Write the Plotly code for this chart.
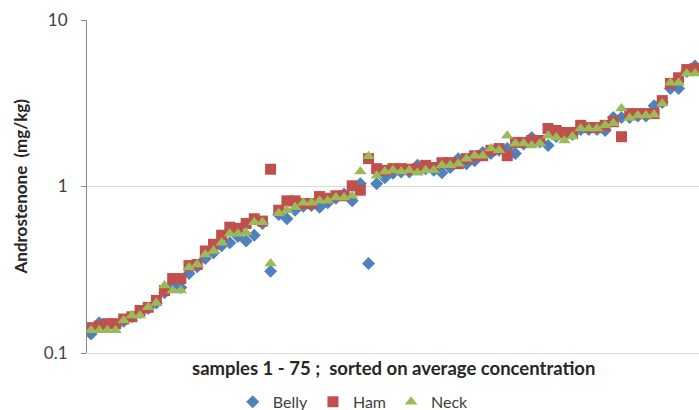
import plotly.graph_objects as go

# samples 1..75, sorted on average concentration (mg/kg)
samples = list(range(1, 76))

belly = [0.13, 0.152, 0.145, 0.145, 0.155, 0.165, 0.175, 0.185, 0.2, 0.23,
         0.26, 0.247, 0.30, 0.33, 0.37, 0.40, 0.44, 0.46, 0.50, 0.47,
         0.51, 0.60, 0.31, 0.68, 0.64, 0.72, 0.76, 0.77, 0.75, 0.80,
         0.85, 0.90, 0.82, 1.04, 0.345, 1.04, 1.13, 1.20, 1.22, 1.22,
         1.34, 1.28, 1.25, 1.21, 1.30, 1.47, 1.37, 1.43, 1.60, 1.58,
         1.65, 1.69, 1.58, 1.80, 1.97, 1.85, 1.76, 2.0, 2.05, 2.05,
         2.2, 2.2, 2.2, 2.17, 2.6, 2.6, 2.6, 2.65, 2.65, 3.05,
         3.2, 3.88, 3.88, 4.9, 5.3]

ham = [0.142, 0.145, 0.15, 0.15, 0.16, 0.165, 0.18, 0.188, 0.207, 0.237,
       0.28, 0.28, 0.335, 0.34, 0.41, 0.45, 0.51, 0.57, 0.56, 0.60,
       0.64, 0.62, 1.27, 0.72, 0.82, 0.82, 0.79, 0.79, 0.87, 0.85,
       0.88, 0.88, 1.01, 0.95, 1.47, 1.28, 1.25, 1.28, 1.28, 1.27,
       1.28, 1.34, 1.30, 1.39, 1.39, 1.37, 1.47, 1.53, 1.53, 1.65,
       1.69, 1.53, 1.84, 1.84, 1.89, 1.89, 2.23, 2.17, 2.11, 2.11,
       2.33, 2.26, 2.26, 2.33, 2.45, 1.99, 2.74, 2.74, 2.74, 2.74,
       3.28, 4.16, 4.5, 5.04, 5.1]

neck = [0.137, 0.137, 0.137, 0.137, 0.157, 0.168, 0.168, 0.188, 0.2, 0.254,
        0.237, 0.237, 0.326, 0.34, 0.39, 0.41, 0.46, 0.52, 0.52, 0.53,
        0.61, 0.61, 0.345, 0.69, 0.72, 0.75, 0.80, 0.80, 0.82, 0.82,
        0.86, 0.86, 0.88, 1.23, 1.52, 1.16, 1.23, 1.25, 1.23, 1.25,
        1.21, 1.25, 1.25, 1.34, 1.34, 1.37, 1.47, 1.53, 1.53, 1.69,
        1.65, 2.02, 1.81, 1.81, 1.76, 1.81, 2.02, 1.97, 1.89, 2.0,
        2.23, 2.23, 2.23, 2.33, 2.4, 2.94, 2.58, 2.67, 2.67, 2.7,
        3.15, 4.2, 4.2, 4.77, 4.77]

FONT = "Lato, 'Open Sans', sans-serif"

fig = go.Figure()
fig.add_trace(go.Scatter(x=samples, y=belly, mode="markers", name="Belly",
                         marker=dict(symbol="diamond", size=10, color="#4F81BD")))
fig.add_trace(go.Scatter(x=samples, y=ham, mode="markers", name="Ham",
                         marker=dict(symbol="square", size=11, color="#C0504D")))
fig.add_trace(go.Scatter(x=samples, y=neck, mode="markers", name="Neck",
                         marker=dict(symbol="triangle-up", size=11, color="#9BBB59")))

fig.update_layout(
    width=699, height=410,
    margin=dict(l=87, r=0, t=20, b=57),
    paper_bgcolor="white", plot_bgcolor="white",
    font=dict(family=FONT, size=15, color="#404040"),
    showlegend=True,
    legend=dict(orientation="h", xref="paper", x=0.435, xanchor="center",
                yref="container", y=0.02, yanchor="middle",
                font=dict(size=16, color="#404040"), itemwidth=30,
                bgcolor="rgba(0,0,0,0)"),
)

fig.update_xaxes(range=[0.5, 75.5], showticklabels=False, showgrid=False,
                 zeroline=False, showline=True, linecolor="#D9D9D9", linewidth=1,
                 ticks="")
fig.update_yaxes(type="log", range=[-1, 1], tickvals=[0.1, 1, 10],
                 ticktext=["0.1", "1", "10"], showgrid=True, gridcolor="#D9D9D9",
                 showline=True, linecolor="#868686", linewidth=1,
                 ticks="outside", ticklen=5, tickcolor="#868686",
                 ticklabelstandoff=10, tickfont=dict(size=17, color="#404040"),
                 zeroline=False)

fig.add_annotation(text="<b>Androstenone  (mg/kg)</b>", textangle=-90,
                   xref="paper", yref="paper", x=0, y=0.5, xanchor="center",
                   yanchor="middle", xshift=-67, showarrow=False,
                   font=dict(size=17, color="#262626"))
fig.add_annotation(text="<b>samples 1 - 75 ;  sorted on average concentration</b>",
                   xref="paper", yref="paper", x=0.5, y=0, xanchor="center",
                   yanchor="middle", yshift=-15, showarrow=False,
                   font=dict(size=18.5, color="#262626"))

fig.write_html("out.html", config={"displayModeBar": False},
               post_script="document.body.style.margin='0';document.body.style.overflow='hidden';")
